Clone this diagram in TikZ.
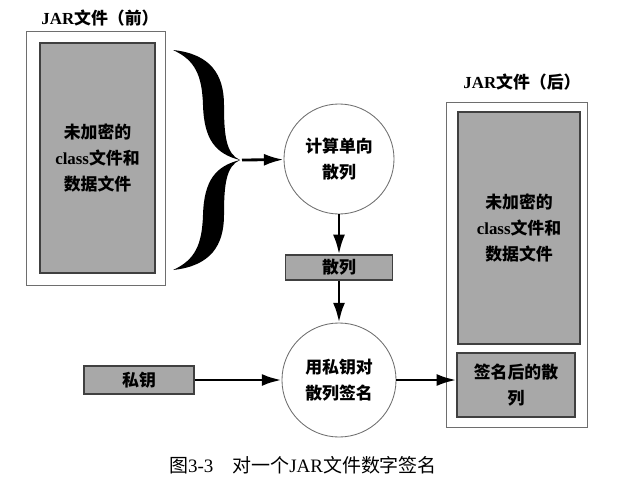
\documentclass[tikz,border=0pt]{standalone}
\usepackage{fontspec}
\setmainfont{Liberation Serif}
\newfontfamily\cjk{Noto Sans CJK SC}
\newcommand{\zh}[1]{{\cjk #1}}
\usetikzlibrary{arrows.meta}
\definecolor{filegray}{RGB}{168,168,168}
\definecolor{rimgray}{RGB}{110,110,110}
\tikzset{every node/.style={font=\fontsize{12}{18.5}\selectfont\bfseries, align=center},
  jarbox/.style={draw=rimgray, line width=0.7pt, fill=white, inner sep=0pt},
  databox/.style={draw=black!75, line width=0.9pt, fill=filegray, inner sep=0pt},
  stepcircle/.style={circle, draw=rimgray, line width=0.6pt, fill=white, inner sep=0pt},
  flow/.style={-{Latex[length=14pt,width=8.5pt]}, line width=2pt}}

\begin{document}
\begin{tikzpicture}[x=0.025cm, y=-0.025cm]
      \useasboundingbox (0,0) rectangle (639,487);
      % JAR file before signing
      \node (beforetitle) at (100,18) {JAR\zh{文件（前）}};
      \node[jarbox, minimum width=3.45cm, minimum height=6.325cm] (before) at (96,158.5) {};
      \node[databox, minimum width=2.875cm, minimum height=5.75cm] (beforedata) at (97.5,158)
        {\zh{未加密的}\\class\zh{文件和}\\\zh{数据文件}};

      % the brace
      \foreach \s in {1,-1}
      \fill[shift={(238,160)}, yscale=\s] (-65,-110) .. controls (-27,-106) and (-14,-85) .. (-14,-55)
        .. controls (-14,-25) and (-12,-6) .. (2,0)
        .. controls (-22,-6) and (-34,-20) .. (-35,-55)
        .. controls (-36,-85) and (-43,-100) .. (-65,-110) -- cycle;
      \coordinate (bracetip) at (242,160);

      % hashing and signing
      \node[stepcircle, minimum size=2.75cm] (calc) at (339,159) {\zh{计算单向}\\\zh{散列}};
      \node[databox, minimum width=2.675cm, minimum height=0.625cm] (hash) at (339,267.5) {\zh{散列}};
      \node[stepcircle, minimum size=2.85cm] (sign) at (339,380) {\zh{用私钥对}\\\zh{散列签名}};
      \node[databox, minimum width=2.75cm, minimum height=0.7cm] (key) at (139,380) {\zh{私钥}};

      % JAR file after signing
      \node (aftertitle) at (522,82) {JAR\zh{文件（后）}};
      \node[jarbox, minimum width=3.5cm, minimum height=8.1cm] (after) at (517,265) {};
      \node[databox, minimum width=3.05cm, minimum height=5.8cm] (afterdata) at (519,228)
        {\zh{未加密的}\\class\zh{文件和}\\\zh{数据文件}};
      \node[databox, minimum width=2.95cm, minimum height=1.6cm] (signed) at (516,385)
        {\zh{签名后的散}\\\zh{列}};

      \draw[flow] (bracetip) -- (calc);
      \draw[flow] (calc) -- (hash);
      \draw[flow] (hash) -- (sign);
      \draw[flow] (key) -- (sign);
      \draw[flow] (sign.east) -- (sign.east -| signed.west);

      \node[font=\fontsize{13.5}{16}\selectfont] (caption) at (303,465)
        {\zh{图}3-3\quad\zh{对一个}JAR\zh{文件数字签名}};
\end{tikzpicture}
\end{document}
